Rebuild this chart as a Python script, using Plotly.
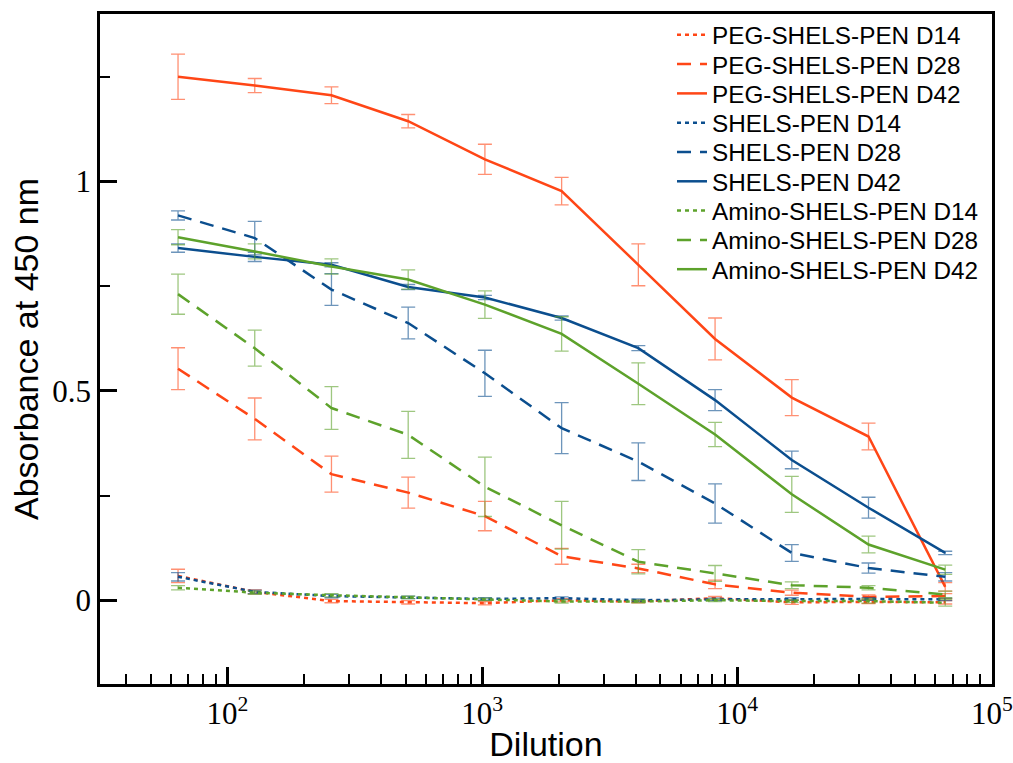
import plotly.graph_objects as go

dilution = [64, 128, 256, 512, 1024, 2048, 4096, 8192, 16384, 32768, 65536]

peg_d14 = [0.058, 0.020, -0.002, -0.005, -0.007, 0.000, -0.003, 0.005, -0.005, -0.004, -0.005]
peg_d14_err = [0.016, 0.005, 0.004, 0.004, 0.004, 0.004, 0.003, 0.004, 0.005, 0.004, 0.004]
peg_d28 = [0.553, 0.433, 0.301, 0.257, 0.201, 0.105, 0.076, 0.038, 0.018, 0.008, 0.010]
peg_d28_err = [0.050, 0.050, 0.043, 0.037, 0.035, 0.019, 0.010, 0.010, 0.006, 0.005, 0.006]
peg_d42 = [1.250, 1.229, 1.206, 1.144, 1.053, 0.977, 0.801, 0.624, 0.484, 0.391, 0.032]
peg_d42_err = [0.054, 0.017, 0.020, 0.016, 0.036, 0.033, 0.050, 0.050, 0.043, 0.032, 0.010]

shels_d14 = [0.056, 0.020, 0.010, 0.007, 0.003, 0.005, 0.000, 0.002, 0.003, 0.003, 0.002]
shels_d14_err = [0.010, 0.004, 0.004, 0.003, 0.003, 0.003, 0.003, 0.003, 0.003, 0.003, 0.003]
shels_d28 = [0.919, 0.865, 0.742, 0.662, 0.542, 0.411, 0.331, 0.231, 0.113, 0.077, 0.056]
shels_d28_err = [0.011, 0.040, 0.038, 0.038, 0.055, 0.061, 0.045, 0.047, 0.020, 0.012, 0.010]
shels_d42 = [0.841, 0.820, 0.801, 0.748, 0.723, 0.674, 0.602, 0.478, 0.335, 0.221, 0.113]
shels_d42_err = [0.010, 0.011, 0.005, 0.006, 0.005, 0.005, 0.006, 0.025, 0.021, 0.025, 0.004]

amino_d14 = [0.030, 0.018, 0.012, 0.007, 0.002, -0.003, -0.003, 0.000, -0.002, -0.002, -0.006]
amino_d14_err = [0.005, 0.004, 0.004, 0.003, 0.003, 0.004, 0.003, 0.003, 0.003, 0.005, 0.008]
amino_d28 = [0.731, 0.602, 0.459, 0.395, 0.271, 0.179, 0.092, 0.064, 0.036, 0.030, 0.014]
amino_d28_err = [0.048, 0.043, 0.051, 0.056, 0.071, 0.057, 0.029, 0.019, 0.008, 0.005, 0.008]
amino_d42 = [0.867, 0.833, 0.797, 0.766, 0.706, 0.636, 0.517, 0.396, 0.253, 0.133, 0.073]
amino_d42_err = [0.018, 0.018, 0.018, 0.023, 0.033, 0.041, 0.050, 0.029, 0.043, 0.020, 0.011]

RED = "#FF4616"
BLUE = "#0B4E8E"
GREEN = "#5DA22B"
RED_E = "rgba(255,70,22,0.6)"
BLUE_E = "rgba(11,78,142,0.6)"
GREEN_E = "rgba(93,162,43,0.6)"

DOT = "4px,4px"
DASH = "14px,9px"

series = [
    ("PEG-SHELS-PEN D14", peg_d14, peg_d14_err, RED, RED_E, DOT),
    ("PEG-SHELS-PEN D28", peg_d28, peg_d28_err, RED, RED_E, DASH),
    ("PEG-SHELS-PEN D42", peg_d42, peg_d42_err, RED, RED_E, "solid"),
    ("SHELS-PEN D14", shels_d14, shels_d14_err, BLUE, BLUE_E, DOT),
    ("SHELS-PEN D28", shels_d28, shels_d28_err, BLUE, BLUE_E, DASH),
    ("SHELS-PEN D42", shels_d42, shels_d42_err, BLUE, BLUE_E, "solid"),
    ("Amino-SHELS-PEN D14", amino_d14, amino_d14_err, GREEN, GREEN_E, DOT),
    ("Amino-SHELS-PEN D28", amino_d28, amino_d28_err, GREEN, GREEN_E, DASH),
    ("Amino-SHELS-PEN D42", amino_d42, amino_d42_err, GREEN, GREEN_E, "solid"),
]

# plot area geometry (pixels) used to place one-row legends
PLOT_L, PLOT_R, PLOT_T, PLOT_B = 100, 992, 14, 684
ROW0, ROW_STEP = 35.0, 29.3
LEG_LEFT_PX = 672

fig = go.Figure()
legend_layout = {}
for i, (name, y, err, col, ecol, dash) in enumerate(series):
    lname = "legend" if i == 0 else f"legend{i + 1}"
    fig.add_trace(go.Scatter(
        x=dilution, y=y, name=name, mode="lines", legend=lname,
        line=dict(color=col, width=2.5, dash=dash),
        error_y=dict(type="data", array=err, visible=True,
                     color=ecol, thickness=1.3, width=7),
    ))
    ypx = ROW0 + i * ROW_STEP
    legend_layout[lname] = dict(
        x=(LEG_LEFT_PX - PLOT_L) / (PLOT_R - PLOT_L),
        y=(PLOT_B - ypx) / (PLOT_B - PLOT_T),
        xanchor="left", yanchor="middle",
        bgcolor="rgba(0,0,0,0)", borderwidth=0,
        font=dict(size=24.3, family="Liberation Sans, Arial, sans-serif", color="black"),
    )

x_major = [100, 1000, 10000, 100000]
x_major_text = ["10<sup>2</sup>", "10<sup>3</sup>", "10<sup>4</sup>", "10<sup>5</sup>"]
x_minor = [m * d for d in [10, 100, 1000, 10000] for m in range(2, 10)]
y_major = [0, 0.5, 1]
y_major_text = ["0", "0.5", "1"]
y_minor = [0.25, 0.75, 1.25]

fig.update_layout(
    width=1013, height=763,
    margin=dict(l=PLOT_L, r=1013 - PLOT_R, t=PLOT_T, b=763 - PLOT_B),
    paper_bgcolor="white", plot_bgcolor="white",
    font=dict(family="Liberation Sans, Arial, sans-serif", color="black"),
    showlegend=True,
    xaxis=dict(
        type="log", range=[1.5, 5], automargin=False,
        title=dict(text="Dilution", font=dict(size=34), standoff=12),
        tickmode="array", tickvals=x_major, ticktext=x_major_text,
        ticks="inside", ticklen=17, tickwidth=2.5, tickcolor="black",
        tickfont=dict(family="Liberation Serif, Times New Roman, serif", size=31),
        minor=dict(tickmode="array", tickvals=x_minor, ticks="inside",
                   ticklen=10, tickwidth=2, tickcolor="black"),
        showline=True, linecolor="black", linewidth=2.5, mirror=True,
        showgrid=False, zeroline=False,
    ),
    yaxis=dict(
        range=[-0.2, 1.4], automargin=False,
        title=dict(text="Absorbance at 450 nm", font=dict(size=34), standoff=4),
        tickmode="array", tickvals=y_major, ticktext=y_major_text,
        ticks="inside", ticklen=17, tickwidth=2.5, tickcolor="black",
        tickfont=dict(family="Liberation Serif, Times New Roman, serif", size=31),
        minor=dict(tickmode="array", tickvals=y_minor, ticks="inside",
                   ticklen=10, tickwidth=2, tickcolor="black"),
        showline=True, linecolor="black", linewidth=2.5, mirror=True,
        showgrid=False, zeroline=False,
    ),
    **legend_layout,
)

fig.write_html("out.html")
